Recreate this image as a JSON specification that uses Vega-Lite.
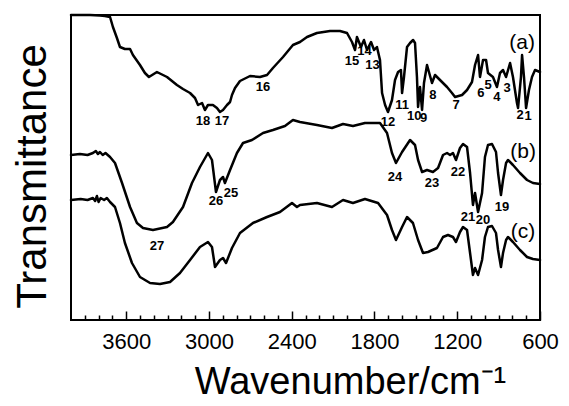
{
 "$schema": "https://vega.github.io/schema/vega-lite/v6.json",
 "width": 469, "height": 305,
 "autosize": {"type": "none"},
 "padding": {"left": 71, "top": 15, "right": 29, "bottom": 86},
 "config": {"view": {"stroke": "black", "strokeWidth": 2}, "font": "Liberation Sans"},
 "resolve": {"axis": {"x": "independent"}},
 "datasets": {
  "spectra": [
   {"s":"a","wn":4000,"t":305},{"s":"a","wn":3862,"t":305},{"s":"a","wn":3790,"t":304.5},{"s":"a","wn":3754,"t":304},{"s":"a","wn":3717,"t":303},{"s":"a","wn":3696,"t":293},{"s":"a","wn":3667,"t":282},{"s":"a","wn":3645,"t":273},{"s":"a","wn":3609,"t":271},{"s":"a","wn":3572,"t":271},{"s":"a","wn":3551,"t":265},{"s":"a","wn":3500,"t":255},{"s":"a","wn":3464,"t":247},{"s":"a","wn":3435,"t":243},{"s":"a","wn":3377,"t":248},{"s":"a","wn":3304,"t":243},{"s":"a","wn":3232,"t":235},{"s":"a","wn":3188,"t":231},{"s":"a","wn":3137,"t":227},{"s":"a","wn":3101,"t":222},{"s":"a","wn":3079,"t":215},{"s":"a","wn":3050,"t":217},{"s":"a","wn":3029,"t":210},{"s":"a","wn":3007,"t":215},{"s":"a","wn":2971,"t":215},{"s":"a","wn":2942,"t":212},{"s":"a","wn":2920,"t":208},{"s":"a","wn":2898,"t":210},{"s":"a","wn":2869,"t":215},{"s":"a","wn":2847,"t":218},{"s":"a","wn":2833,"t":225},{"s":"a","wn":2811,"t":232},{"s":"a","wn":2775,"t":239},{"s":"a","wn":2702,"t":244},{"s":"a","wn":2630,"t":243},{"s":"a","wn":2579,"t":245},{"s":"a","wn":2536,"t":252},{"s":"a","wn":2463,"t":263},{"s":"a","wn":2391,"t":275},{"s":"a","wn":2340,"t":278},{"s":"a","wn":2289,"t":283},{"s":"a","wn":2217,"t":287},{"s":"a","wn":2122,"t":289},{"s":"a","wn":2050,"t":289},{"s":"a","wn":1999,"t":287},{"s":"a","wn":1963,"t":278},{"s":"a","wn":1941,"t":270},{"s":"a","wn":1927,"t":283},{"s":"a","wn":1898,"t":273},{"s":"a","wn":1876,"t":280},{"s":"a","wn":1854,"t":270},{"s":"a","wn":1825,"t":278},{"s":"a","wn":1803,"t":270},{"s":"a","wn":1782,"t":273},{"s":"a","wn":1760,"t":260},{"s":"a","wn":1745,"t":227},{"s":"a","wn":1723,"t":215},{"s":"a","wn":1702,"t":208},{"s":"a","wn":1673,"t":220},{"s":"a","wn":1651,"t":240},{"s":"a","wn":1629,"t":248},{"s":"a","wn":1608,"t":250},{"s":"a","wn":1600,"t":227},{"s":"a","wn":1586,"t":243},{"s":"a","wn":1564,"t":273},{"s":"a","wn":1542,"t":277},{"s":"a","wn":1520,"t":280},{"s":"a","wn":1506,"t":277},{"s":"a","wn":1492,"t":243},{"s":"a","wn":1484,"t":213},{"s":"a","wn":1470,"t":233},{"s":"a","wn":1455,"t":210},{"s":"a","wn":1441,"t":237},{"s":"a","wn":1419,"t":255},{"s":"a","wn":1405,"t":248},{"s":"a","wn":1383,"t":237},{"s":"a","wn":1361,"t":245},{"s":"a","wn":1325,"t":240},{"s":"a","wn":1274,"t":233},{"s":"a","wn":1238,"t":227},{"s":"a","wn":1216,"t":223},{"s":"a","wn":1165,"t":225},{"s":"a","wn":1129,"t":230},{"s":"a","wn":1093,"t":238},{"s":"a","wn":1071,"t":255},{"s":"a","wn":1049,"t":265},{"s":"a","wn":1035,"t":243},{"s":"a","wn":1013,"t":260},{"s":"a","wn":991,"t":260},{"s":"a","wn":977,"t":247},{"s":"a","wn":941,"t":243},{"s":"a","wn":912,"t":233},{"s":"a","wn":890,"t":247},{"s":"a","wn":868,"t":250},{"s":"a","wn":846,"t":243},{"s":"a","wn":817,"t":257},{"s":"a","wn":796,"t":243},{"s":"a","wn":767,"t":217},{"s":"a","wn":759,"t":212},{"s":"a","wn":738,"t":243},{"s":"a","wn":730,"t":265},{"s":"a","wn":716,"t":243},{"s":"a","wn":701,"t":212},{"s":"a","wn":680,"t":230},{"s":"a","wn":658,"t":243},{"s":"a","wn":636,"t":250},{"s":"a","wn":600,"t":248},
   {"s":"b","wn":4000,"t":165},{"s":"b","wn":3935,"t":166},{"s":"b","wn":3880,"t":165},{"s":"b","wn":3841,"t":167},{"s":"b","wn":3820,"t":169},{"s":"b","wn":3805,"t":166},{"s":"b","wn":3790,"t":168},{"s":"b","wn":3770,"t":165},{"s":"b","wn":3750,"t":167},{"s":"b","wn":3717,"t":163},{"s":"b","wn":3681,"t":157},{"s":"b","wn":3630,"t":137},{"s":"b","wn":3572,"t":113},{"s":"b","wn":3522,"t":97},{"s":"b","wn":3478,"t":92},{"s":"b","wn":3406,"t":90},{"s":"b","wn":3304,"t":93},{"s":"b","wn":3261,"t":98},{"s":"b","wn":3188,"t":113},{"s":"b","wn":3123,"t":137},{"s":"b","wn":3065,"t":153},{"s":"b","wn":3007,"t":167},{"s":"b","wn":2978,"t":160},{"s":"b","wn":2949,"t":128},{"s":"b","wn":2920,"t":140},{"s":"b","wn":2898,"t":143},{"s":"b","wn":2884,"t":137},{"s":"b","wn":2847,"t":150},{"s":"b","wn":2797,"t":167},{"s":"b","wn":2753,"t":177},{"s":"b","wn":2688,"t":180},{"s":"b","wn":2608,"t":187},{"s":"b","wn":2536,"t":190},{"s":"b","wn":2449,"t":194},{"s":"b","wn":2391,"t":200},{"s":"b","wn":2340,"t":198},{"s":"b","wn":2217,"t":195},{"s":"b","wn":2108,"t":192},{"s":"b","wn":2028,"t":196},{"s":"b","wn":1956,"t":194},{"s":"b","wn":1869,"t":197},{"s":"b","wn":1760,"t":197},{"s":"b","wn":1709,"t":187},{"s":"b","wn":1673,"t":167},{"s":"b","wn":1644,"t":157},{"s":"b","wn":1600,"t":168},{"s":"b","wn":1542,"t":180},{"s":"b","wn":1506,"t":175},{"s":"b","wn":1484,"t":160},{"s":"b","wn":1455,"t":148},{"s":"b","wn":1419,"t":150},{"s":"b","wn":1376,"t":148},{"s":"b","wn":1339,"t":152},{"s":"b","wn":1303,"t":165},{"s":"b","wn":1274,"t":167},{"s":"b","wn":1252,"t":165},{"s":"b","wn":1231,"t":167},{"s":"b","wn":1209,"t":160},{"s":"b","wn":1180,"t":172},{"s":"b","wn":1158,"t":176},{"s":"b","wn":1129,"t":173},{"s":"b","wn":1107,"t":147},{"s":"b","wn":1086,"t":115},{"s":"b","wn":1071,"t":127},{"s":"b","wn":1049,"t":108},{"s":"b","wn":1020,"t":127},{"s":"b","wn":999,"t":163},{"s":"b","wn":977,"t":175},{"s":"b","wn":948,"t":176},{"s":"b","wn":919,"t":168},{"s":"b","wn":904,"t":147},{"s":"b","wn":883,"t":125},{"s":"b","wn":868,"t":140},{"s":"b","wn":846,"t":157},{"s":"b","wn":832,"t":160},{"s":"b","wn":796,"t":155},{"s":"b","wn":745,"t":147},{"s":"b","wn":694,"t":140},{"s":"b","wn":651,"t":137},{"s":"b","wn":600,"t":136},
   {"s":"c","wn":4000,"t":120},{"s":"c","wn":3930,"t":121},{"s":"c","wn":3880,"t":120},{"s":"c","wn":3841,"t":122},{"s":"c","wn":3825,"t":119},{"s":"c","wn":3812,"t":124},{"s":"c","wn":3800,"t":118},{"s":"c","wn":3785,"t":122},{"s":"c","wn":3760,"t":120},{"s":"c","wn":3740,"t":122},{"s":"c","wn":3717,"t":118},{"s":"c","wn":3681,"t":113},{"s":"c","wn":3645,"t":97},{"s":"c","wn":3609,"t":77},{"s":"c","wn":3558,"t":57},{"s":"c","wn":3500,"t":43},{"s":"c","wn":3427,"t":37},{"s":"c","wn":3355,"t":36},{"s":"c","wn":3282,"t":38},{"s":"c","wn":3210,"t":47},{"s":"c","wn":3137,"t":60},{"s":"c","wn":3065,"t":73},{"s":"c","wn":3007,"t":78},{"s":"c","wn":2978,"t":73},{"s":"c","wn":2956,"t":53},{"s":"c","wn":2920,"t":60},{"s":"c","wn":2898,"t":62},{"s":"c","wn":2876,"t":57},{"s":"c","wn":2833,"t":72},{"s":"c","wn":2775,"t":87},{"s":"c","wn":2681,"t":97},{"s":"c","wn":2579,"t":103},{"s":"c","wn":2485,"t":108},{"s":"c","wn":2398,"t":117},{"s":"c","wn":2362,"t":113},{"s":"c","wn":2340,"t":115},{"s":"c","wn":2217,"t":117},{"s":"c","wn":2108,"t":113},{"s":"c","wn":2028,"t":120},{"s":"c","wn":1956,"t":117},{"s":"c","wn":1869,"t":121},{"s":"c","wn":1774,"t":117},{"s":"c","wn":1709,"t":105},{"s":"c","wn":1673,"t":90},{"s":"c","wn":1644,"t":80},{"s":"c","wn":1600,"t":93},{"s":"c","wn":1564,"t":103},{"s":"c","wn":1521,"t":97},{"s":"c","wn":1484,"t":80},{"s":"c","wn":1448,"t":67},{"s":"c","wn":1412,"t":68},{"s":"c","wn":1347,"t":72},{"s":"c","wn":1303,"t":83},{"s":"c","wn":1267,"t":85},{"s":"c","wn":1231,"t":83},{"s":"c","wn":1209,"t":78},{"s":"c","wn":1180,"t":88},{"s":"c","wn":1158,"t":93},{"s":"c","wn":1129,"t":90},{"s":"c","wn":1107,"t":67},{"s":"c","wn":1086,"t":45},{"s":"c","wn":1071,"t":52},{"s":"c","wn":1049,"t":45},{"s":"c","wn":1020,"t":60},{"s":"c","wn":999,"t":83},{"s":"c","wn":977,"t":93},{"s":"c","wn":948,"t":94},{"s":"c","wn":919,"t":87},{"s":"c","wn":904,"t":70},{"s":"c","wn":883,"t":53},{"s":"c","wn":868,"t":67},{"s":"c","wn":846,"t":80},{"s":"c","wn":832,"t":83},{"s":"c","wn":796,"t":78},{"s":"c","wn":745,"t":70},{"s":"c","wn":694,"t":63},{"s":"c","wn":651,"t":61},{"s":"c","wn":600,"t":60}
  ],
  "peaks": [
   {"label":"18","wn":3043,"t":199},{"label":"17","wn":2905,"t":199},{"label":"16","wn":2608,"t":233},{"label":"15","wn":1963,"t":259},{"label":"14","wn":1872,"t":269},{"label":"13","wn":1815,"t":255},{"label":"12","wn":1702,"t":198},{"label":"11","wn":1600,"t":215},{"label":"10","wn":1512,"t":204},{"label":"9","wn":1443,"t":202},{"label":"8","wn":1376,"t":225},{"label":"7","wn":1209,"t":215},{"label":"6","wn":1028,"t":227},{"label":"5","wn":977,"t":235},{"label":"4","wn":912,"t":223},{"label":"3","wn":839,"t":232},{"label":"2","wn":745,"t":205},{"label":"1","wn":687,"t":204},
   {"label":"27","wn":3377,"t":74},{"label":"26","wn":2949,"t":119},{"label":"25","wn":2840,"t":127},{"label":"24","wn":1651,"t":143},{"label":"23","wn":1383,"t":137},{"label":"22","wn":1194,"t":148},{"label":"21","wn":1122,"t":103},{"label":"20","wn":1013,"t":100},{"label":"19","wn":875,"t":113}
  ],
  "curves": [
   {"label":"(a)","wn":730,"t":277},{"label":"(b)","wn":723,"t":168},{"label":"(c)","wn":723,"t":88}
  ]
 },
 "layer": [
  {
   "data": {"name": "spectra"},
   "mark": {"type": "line", "color": "black", "strokeWidth": 2.5, "strokeJoin": "round", "strokeCap": "round", "clip": false},
   "encoding": {
    "x": {"field": "wn", "type": "quantitative",
     "scale": {"domain": [600, 4000], "reverse": true, "nice": false, "zero": false},
     "axis": {
      "orient": "bottom",
      "title": "Wavenumber/cm⁻¹", "titleX": 279,
      "titleFontSize": 38, "titleFontWeight": "normal", "titleColor": "black", "titlePadding": 11,
      "values": [3600, 3000, 2400, 1800, 1200, 600], "format": "d",
      "labelFontSize": 22, "labelColor": "black", "labelPadding": 11, "labelOverlap": false, "labelBound": false, "labelFlush": false,
      "offset": -9, "tickSize": 9, "tickColor": "black", "tickWidth": 1.5,
      "domain": false, "grid": false
     }
    },
    "y": {"field": "t", "type": "quantitative",
     "scale": {"domain": [0, 305], "nice": false, "zero": false},
     "axis": {"title": "Transmittance", "titleY": 161, "titleFontSize": 42, "titleFontWeight": "normal", "titleColor": "black", "titlePadding": 17, "labels": false, "ticks": false, "domain": false, "grid": false}
    },
    "detail": {"field": "s", "type": "nominal"}
   }
  },
  {
   "data": {"name": "peaks"},
   "mark": {"type": "text", "fontSize": 13, "fontWeight": "bold", "color": "black"},
   "encoding": {
    "x": {"field": "wn", "type": "quantitative",
     "axis": {
      "orient": "bottom", "title": null, "labels": false,
      "values": [3900,3800,3700,3500,3400,3300,3200,3100,2900,2800,2700,2600,2500,2300,2200,2100,2000,1900,1700,1600,1500,1400,1300,1100,1000,900,800,700],
      "offset": -5, "tickSize": 5, "tickColor": "black", "tickWidth": 1.5,
      "domain": false, "grid": false
     }
    },
    "y": {"field": "t", "type": "quantitative"},
    "text": {"field": "label"}
   }
  },
  {
   "data": {"name": "curves"},
   "mark": {"type": "text", "fontSize": 21, "color": "black"},
   "encoding": {
    "x": {"field": "wn", "type": "quantitative", "axis": null},
    "y": {"field": "t", "type": "quantitative"},
    "text": {"field": "label"}
   }
  }
 ]
}
